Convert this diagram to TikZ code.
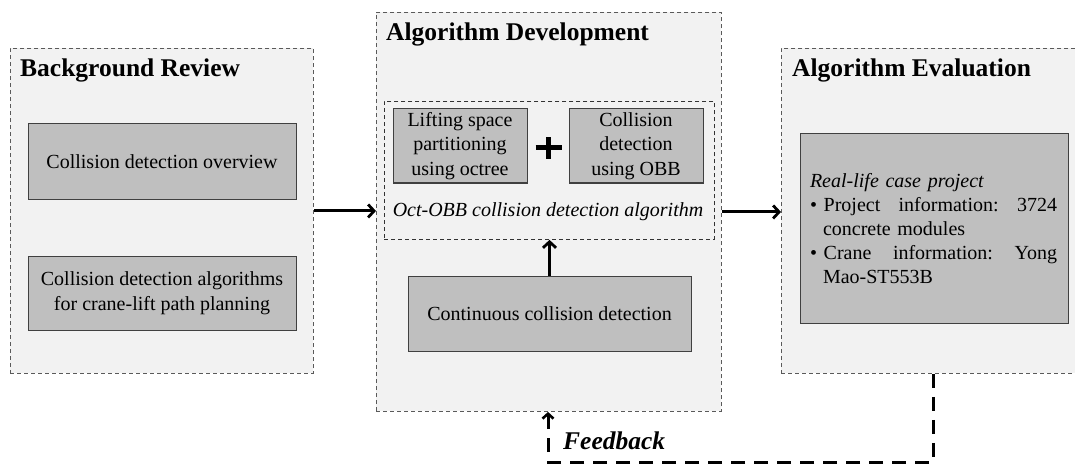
\documentclass[tikz,border=0pt]{standalone}
\usepackage{fontspec}
\setmainfont{Liberation Serif}
\usetikzlibrary{arrows.meta}
\definecolor{panelfill}{HTML}{F2F2F2}
\definecolor{boxfill}{HTML}{BFBFBF}
\definecolor{boxline}{HTML}{404040}
\definecolor{dashline}{HTML}{5A5A5A}
\begin{document}
\begin{tikzpicture}[x=1pt,y=-1pt,
  panel/.style={draw=dashline, fill=panelfill, dash pattern=on 4pt off 3pt, line width=0.9pt, inner sep=0pt, anchor=north west},
  innerpanel/.style={draw=black!80, dash pattern=on 4pt off 3pt, line width=0.9pt, inner sep=0pt, anchor=north west},
  gbox/.style={draw=boxline, fill=boxfill, line width=1pt, inner sep=0pt, align=center, font=\fontsize{20}{24.5}\selectfont},
  ttl/.style={anchor=base west, inner sep=0pt, font=\fontsize{25.5}{30}\selectfont\bfseries},
  arr/.style={line width=3pt, -{Straight Barb[length=6pt,width=13pt,line width=2.8pt]}},
  fb/.style={line width=3pt, dash pattern=on 14pt off 9pt, -{Straight Barb[length=5pt,width=11pt,line width=2.6pt]}}
]
\useasboundingbox (0,0) rectangle (1075,465);
% panels
\node[panel, minimum width=303pt, minimum height=325pt] (bg) at (10,48) {};
\node[panel, minimum width=345pt, minimum height=399pt] (dev) at (376,12) {};
\node[panel, minimum width=310pt, minimum height=325pt] (ev) at (781,48) {};
% titles
\node[ttl] (bgt) at (20,77) {Background Review};
\node[ttl] (devt) at (386,41) {Algorithm Development};
\node[ttl] (evt) at (792,77) {Algorithm Evaluation};
% background boxes
\node[gbox, minimum width=268pt, minimum height=75pt] (b1) at (162,161.5) {Collision detection overview};
\node[gbox, minimum width=268pt, minimum height=74pt] (b2) at (162,293) {Collision detection algorithms\\for crane-lift path planning};
% development
\node[innerpanel, minimum width=330pt, minimum height=138pt] (inner) at (384,101) {};
\node[gbox, minimum width=134pt, minimum height=74pt] (lift) at (460,146) {Lifting space\\partitioning\\using octree};
\node[gbox, minimum width=134pt, minimum height=74pt] (obb) at (636,146) {Collision\\detection\\using OBB};
\coordinate (plus) at (548.5,148);
\draw[line width=5pt] ([xshift=-13pt]plus) -- ([xshift=13pt]plus);
\draw[line width=5pt] ([yshift=-11pt]plus) -- ([yshift=11pt]plus);
\node[inner sep=0pt, font=\fontsize{20}{24}\selectfont\itshape] (octlbl) at (548,212) {Oct-OBB collision detection algorithm};
\node[gbox, minimum width=283pt, minimum height=75pt] (cont) at (549.5,313.5) {Continuous collision detection};
% evaluation box
\node[gbox, minimum width=268pt, minimum height=189pt] (evb) at (934,228.5) {};
\node[inner sep=0pt, text width=247pt, align=left, font=\fontsize{20}{24}\selectfont] (evtxt) at (933.5,228.5) {\textit{Real-life case project}\\
\textbullet\ Project\hfill information:\hfill 3724\\
\hspace*{13pt}concrete modules\\
\textbullet\ Crane\hfill information:\hfill Yong\\
\hspace*{13pt}Mao-ST553B};
% connectors
\draw[arr] (bg.east) -- (bg.east -| dev.west);
\draw[arr] (dev.east) -- (dev.east -| ev.west);
\draw[arr] (cont.north) -- (cont.north |- inner.south);
\coordinate (fb1) at (933,462);
\coordinate (fb2) at (548,462);
\draw[fb] (ev.south -| fb1) -- (fb1) -- (fb2) -- (dev.south -| fb2);
\node[anchor=base west, inner sep=0pt, font=\fontsize{25.5}{30}\selectfont\bfseries\itshape] (fbl) at (563,449) {Feedback};
\end{tikzpicture}
\end{document}
